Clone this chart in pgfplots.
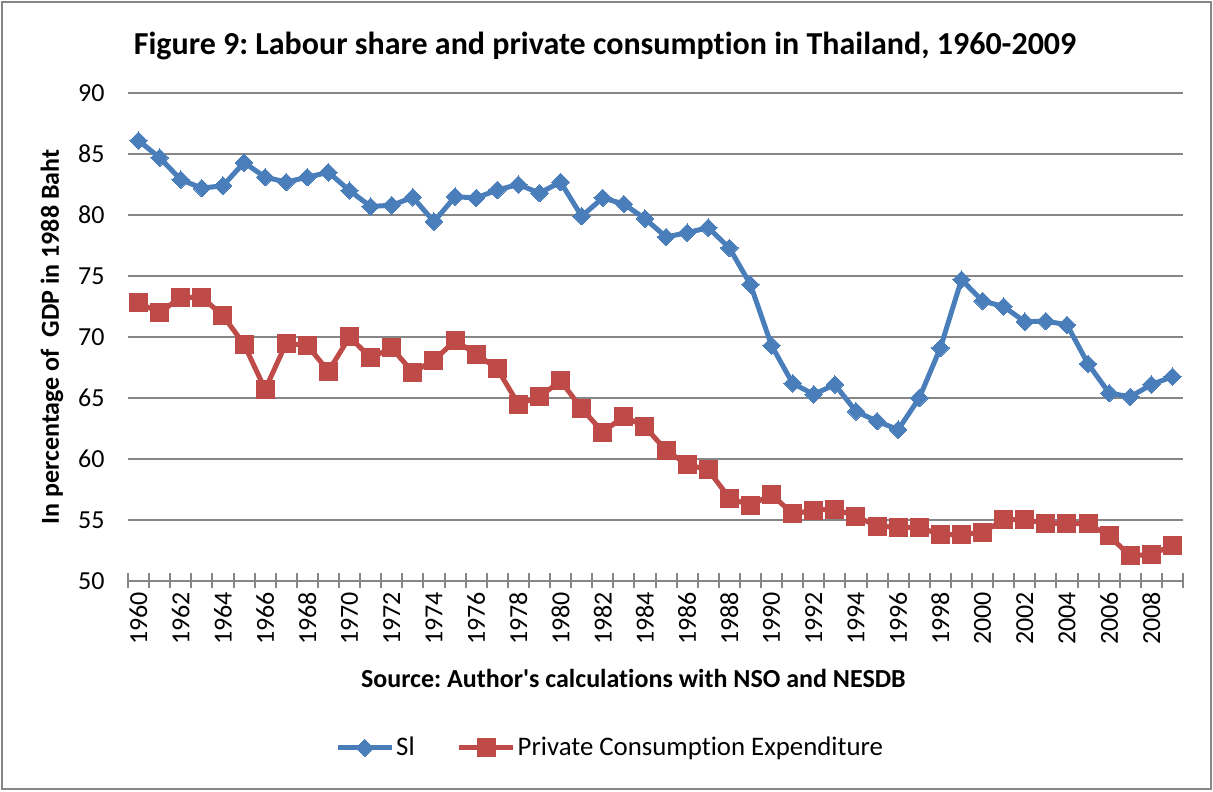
\documentclass[border=0pt]{standalone}
\usepackage{pgfplots}
\pgfplotsset{compat=1.18}
\usepackage{pgfplotstable}
\usepackage{fontspec}
\setmainfont{Carlito}[Ligatures=NoCommon]
\definecolor{slblue}{HTML}{4A7EBB}
\definecolor{pcered}{HTML}{BE4B48}
\definecolor{gridgray}{HTML}{868686}

% year, labour share (Sl), private consumption expenditure (% of GDP)
\pgfplotstableread{
yr   sl    pce
1960 86.1  72.8
1961 84.7  72.0
1962 82.9  73.25
1963 82.2  73.25
1964 82.4  71.75
1965 84.3  69.4
1966 83.1  65.7
1967 82.7  69.5
1968 83.1  69.3
1969 83.5  67.2
1970 82.0  70.0
1971 80.7  68.3
1972 80.8  69.1
1973 81.45 67.1
1974 79.45 68.1
1975 81.5  69.7
1976 81.4  68.6
1977 82.05 67.4
1978 82.5  64.5
1979 81.8  65.1
1980 82.7  66.4
1981 79.9  64.15
1982 81.4  62.2
1983 80.9  63.5
1984 79.7  62.65
1985 78.2  60.7
1986 78.55 59.56
1987 78.96 59.1
1988 77.3  56.8
1989 74.3  56.2
1990 69.3  57.1
1991 66.2  55.5
1992 65.3  55.8
1993 66.1  55.9
1994 63.9  55.3
1995 63.1  54.5
1996 62.4  54.4
1997 65.0  54.4
1998 69.1  53.8
1999 74.7  53.8
2000 72.95 54.0
2001 72.5  55.0
2002 71.25 55.05
2003 71.3  54.7
2004 71.0  54.7
2005 67.8  54.7
2006 65.4  53.7
2007 65.1  52.05
2008 66.1  52.2
2009 66.75 52.9
}\thdata

\begin{document}
\frenchspacing
\begin{tikzpicture}
\useasboundingbox (0,0) rectangle (606.5pt,395.5pt);
\draw[gridgray, line width=1pt] (0.8pt,0.8pt) rectangle (605.7pt,394.7pt);
\node[font=\fontsize{16}{18}\selectfont\bfseries] at (302.5pt,372.5pt)
  {Figure 9: Labour share and private consumption in Thailand, 1960-2009};
\begin{axis}[
    at={(64pt,105pt)}, anchor=south west,
    width=527.5pt, height=244pt, scale only axis,
    xmin=1959.5, xmax=2009.5,
    ymin=50, ymax=90,
    ytick={50,55,...,90},
    xtick={1960,1962,...,2008},
    minor xtick={1959.5,1960.5,...,2009.5},
    axis lines*=left,
    x axis line style={gridgray, line width=1pt},
    y axis line style={draw=none},
    ytick style={draw=none},
    xtick style={gridgray, line width=1pt},
    major tick length=0pt,
    minor tick length=7.5pt,
    tick align=center,
    ymajorgrids,
    major grid style={gridgray, line width=1pt},
    /pgf/number format/assume math mode=true,
    xticklabel style={/pgf/number format/1000 sep=, yshift=-2pt, rotate=90, anchor=east,
        font=\fontsize{13}{15}\selectfont},
    yticklabel style={xshift=-8.2pt, font=\fontsize{13}{15}\selectfont},
    xlabel={\bfseries Source: Author\textquotesingle s calculations with NSO and NESDB},
    xlabel style={at={(axis description cs:0.479,-0.199)}, anchor=center,
        font=\fontsize{13}{15}\selectfont},
    ylabel={\bfseries In percentage of \ GDP in 1988 Baht},
    ylabel style={at={(axis description cs:-0.072,0.5)}, anchor=center,
        font=\fontsize{13}{15}\selectfont},
    legend style={at={(axis description cs:0.457,-0.342)}, anchor=center,
        draw=none, legend columns=2, font=\fontsize{13.4}{15}\selectfont,
        nodes={inner xsep=1pt},
        /tikz/every even column/.append style={column sep=20pt}},
    legend image code/.code={%
        \draw[mark repeat=2, mark phase=2] plot coordinates {(0pt,0pt) (13.5pt,0pt) (27pt,0pt)};},
]
\addplot[slblue, line width=2.5pt, mark=square*,
    mark options={rotate=45, mark size=3.1pt, fill=slblue, line width=0pt}]
    table[x=yr, y=sl] {\thdata};
\addlegendentry{Sl}
\addplot[pcered, line width=2.5pt, mark=square*,
    mark options={mark size=4.5pt, fill=pcered, line width=0pt}]
    table[x=yr, y=pce] {\thdata};
\addlegendentry{Private Consumption Expenditure}
\end{axis}
\end{tikzpicture}
\end{document}
